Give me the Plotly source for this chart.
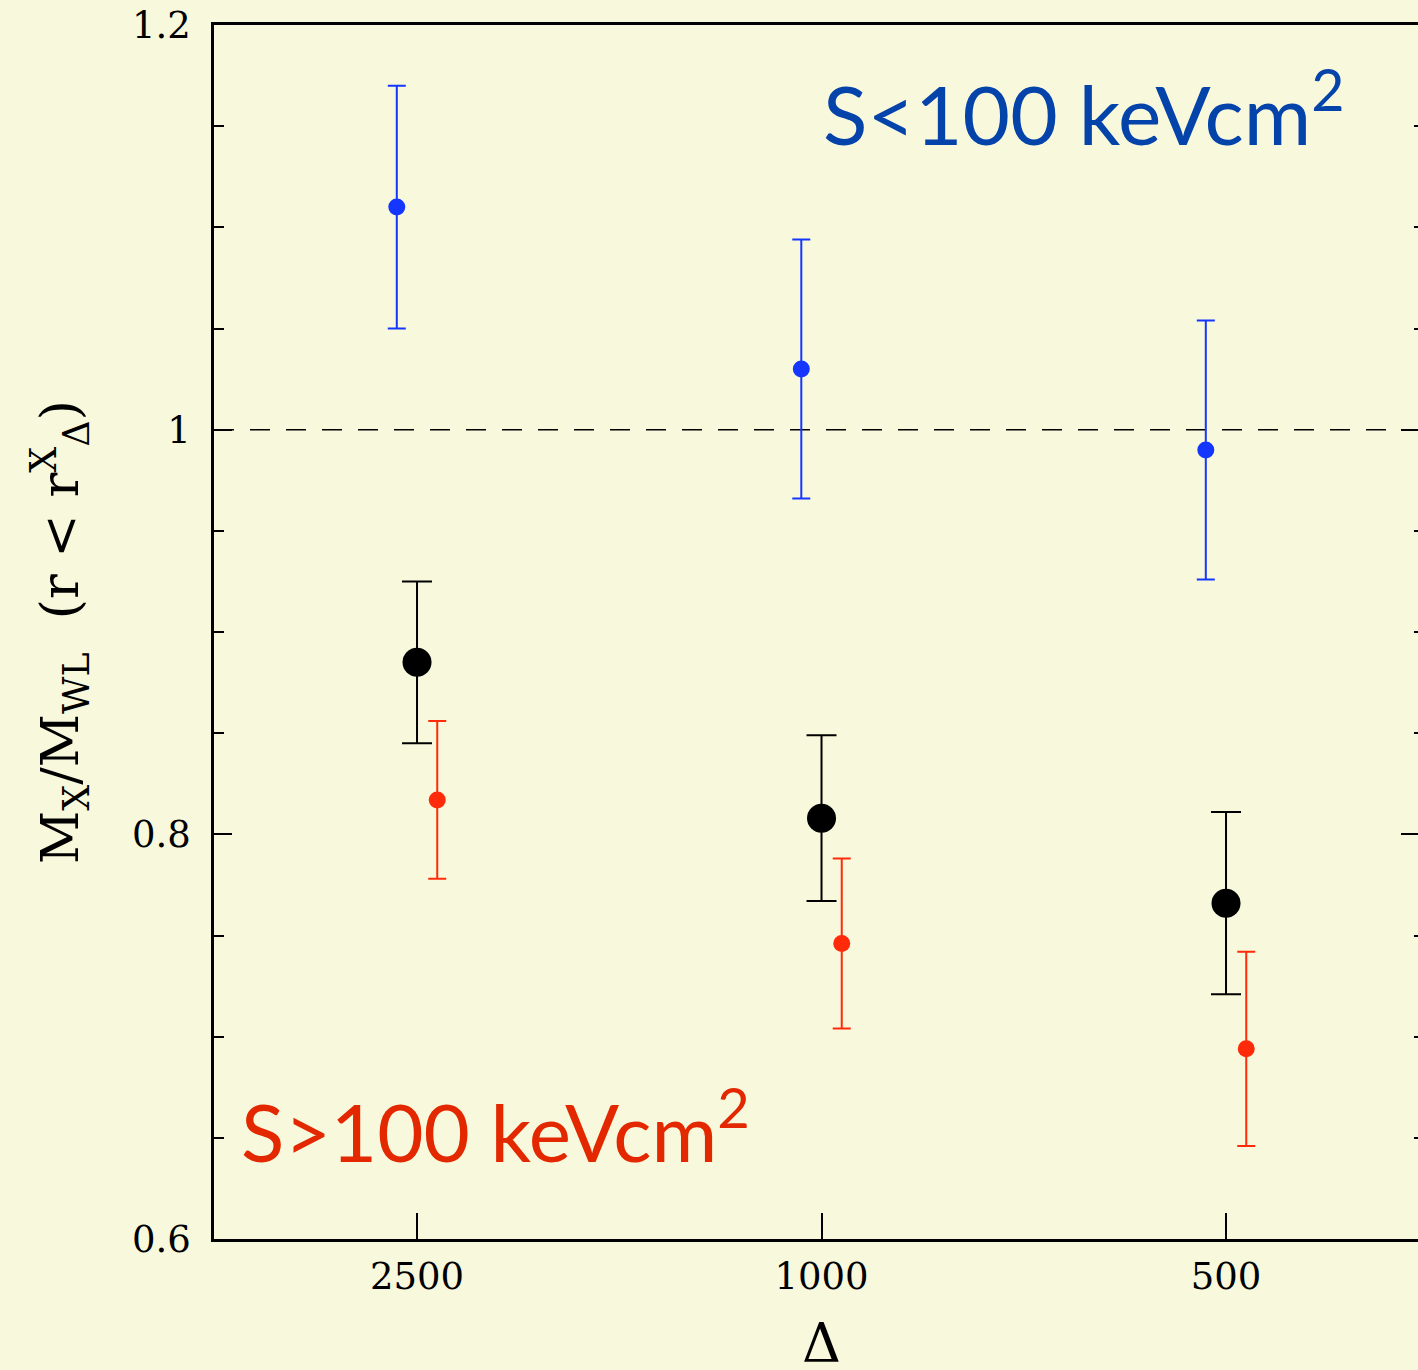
import plotly.graph_objects as go

# Overdensity contrasts (categorical x axis)
deltas = ["2500", "1000", "500"]

# M_X / M_WL for the full sample
ratio_all = [0.885, 0.808, 0.766]
err_all = [0.040, 0.041, 0.045]

# Low central entropy subsample, S < 100 keV cm^2
ratio_low = [1.110, 1.030, 0.990]
err_low = [0.060, 0.064, 0.064]

# High central entropy subsample, S > 100 keV cm^2
ratio_high = [0.817, 0.746, 0.694]
err_high = [0.039, 0.042, 0.048]

BG = "#f8f8dc"
BLUE = "#1436ff"
RED = "#ff2a0a"
SERIF = "DejaVu Serif"
SANS = "Lato"

idx = list(range(len(deltas)))
shift = 0.05  # horizontal offset between subsamples


def shifted(d):
    return [i + d for i in idx]


fig = go.Figure()

fig.add_trace(go.Scatter(
    x=shifted(-shift), y=ratio_low, mode="markers",
    marker=dict(color=BLUE, size=17),
    error_y=dict(type="data", array=err_low, color=BLUE, thickness=2, width=9),
    showlegend=False,
))
fig.add_trace(go.Scatter(
    x=shifted(0), y=ratio_all, mode="markers",
    marker=dict(color="black", size=29),
    error_y=dict(type="data", array=err_all, color="black", thickness=2, width=15),
    showlegend=False,
))
fig.add_trace(go.Scatter(
    x=shifted(shift), y=ratio_high, mode="markers",
    marker=dict(color=RED, size=17),
    error_y=dict(type="data", array=err_high, color=RED, thickness=2, width=9),
    showlegend=False,
))

# unity reference line
fig.add_shape(type="line", xref="paper", x0=0, x1=1, yref="y", y0=1, y1=1,
              line=dict(color="black", width=1.5, dash="20px,16px"), layer="below")

xr = [-0.5019, 2.4746]

fig.update_layout(
    width=1418, height=1370,
    margin=dict(l=214, r=0, t=25, b=131),
    paper_bgcolor=BG, plot_bgcolor=BG,
    xaxis=dict(
        range=xr, tickmode="array", tickvals=idx, ticktext=deltas,
        ticks="inside", ticklen=26, tickwidth=1.5, tickcolor="black",
        showline=True, linecolor="black", linewidth=2.5, mirror=True,
        showgrid=False, zeroline=False, ticklabelstandoff=3,
        tickfont=dict(family=SERIF, size=37, color="black"),
    ),
    yaxis=dict(
        range=[0.6, 1.2], tickmode="array", tickvals=[0.6, 0.8, 1.0, 1.2],
        ticktext=["0.6", "0.8", "1", "1.2"],
        ticks="inside", ticklen=18, tickwidth=1.5, tickcolor="black",
        minor=dict(dtick=0.05, ticks="inside", ticklen=10, tickwidth=1.5, tickcolor="black"),
        showline=True, linecolor="black", linewidth=2.5,
        showgrid=False, zeroline=False, ticklabelstandoff=13,
        tickfont=dict(family=SERIF, size=37, color="black"),
    ),
    yaxis2=dict(
        overlaying="y", side="right", range=[0.6, 1.2], tickmode="array",
        tickvals=[0.6, 0.8, 1.0, 1.2], showticklabels=False,
        ticks="inside", ticklen=17, tickwidth=1.5, tickcolor="black",
        minor=dict(dtick=0.05, ticks="inside", ticklen=4, tickwidth=1.5, tickcolor="black"),
        showline=False, showgrid=False, zeroline=False,
    ),
)

# invisible trace to activate the right-hand tick axis
fig.add_trace(go.Scatter(x=[None], y=[None], yaxis="y2", showlegend=False, hoverinfo="skip"))

fig.add_annotation(
    text="M<sub>X</sub>/M<sub>WL</sub>  (r &lt; r<sup>X</sup><sub>Δ</sub>)",
    xref="paper", yref="paper", x=-0.128, y=0.5, xanchor="center", yanchor="middle",
    textangle=-90, showarrow=False, font=dict(family=SERIF, size=52, color="black"),
)
fig.add_annotation(
    text="Δ", xref="x", yref="paper", x=1, y=-0.086, xanchor="center", yanchor="middle",
    showarrow=False, font=dict(family=SERIF, size=54, color="black"),
)
fig.add_annotation(
    text="S&lt;100 keVcm<sup>2</sup>", xref="paper", yref="paper",
    x=(821 - 214) / 1204, y=(1239 - 108) / 1214, xanchor="left", yanchor="middle",
    showarrow=False, font=dict(family=SANS, size=82, color="#0343aa"),
)
fig.add_annotation(
    text="S&gt;100 keVcm<sup>2</sup>", xref="paper", yref="paper",
    x=(239 - 214) / 1204, y=(1239 - 1126) / 1214, xanchor="left", yanchor="middle",
    showarrow=False, font=dict(family=SANS, size=80, color="#e32800"),
)

fig.write_html("out.html")
